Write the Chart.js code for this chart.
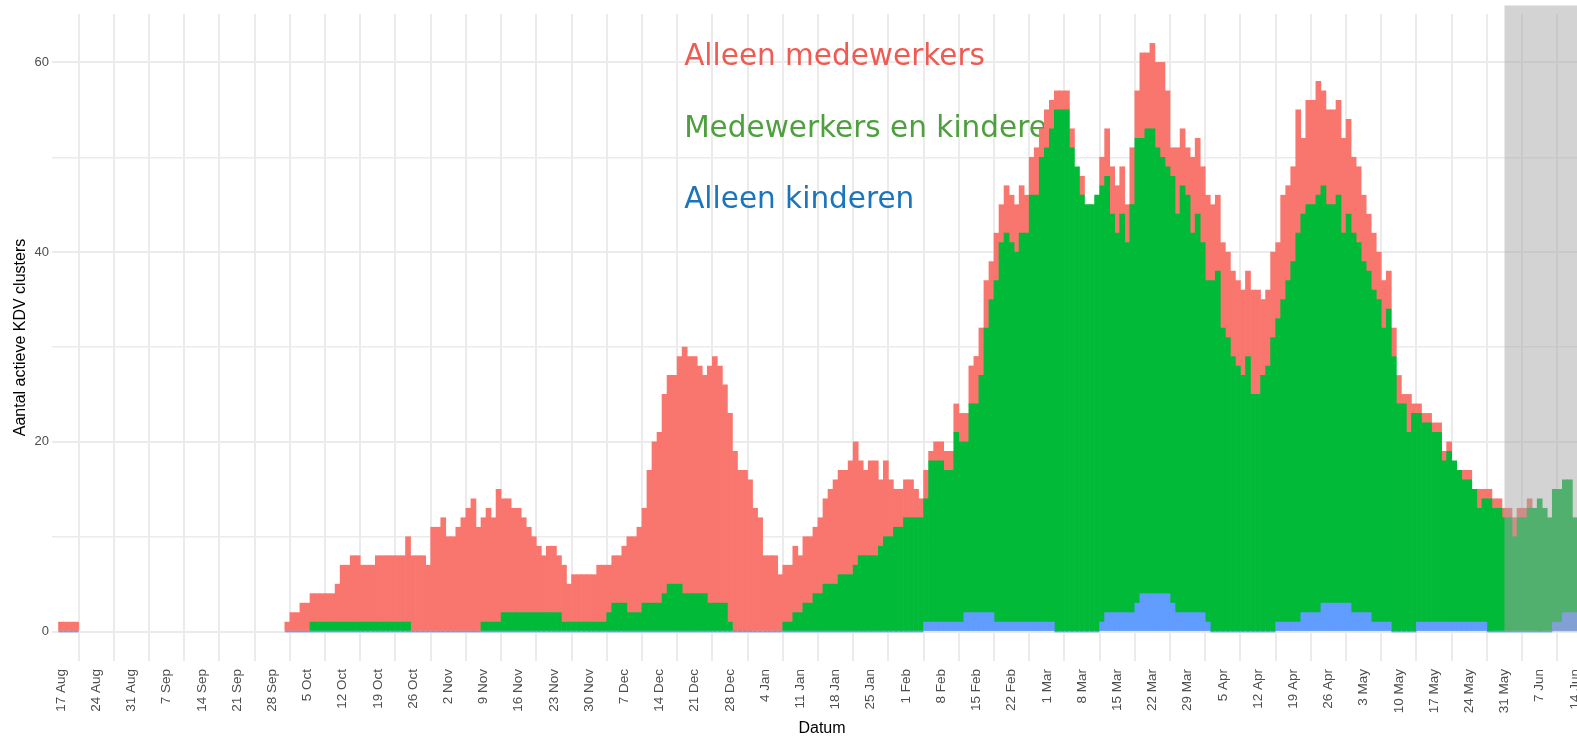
<!DOCTYPE html>
<html>
<head>
<meta charset="utf-8">
<script src="https://cdn.jsdelivr.net/npm/chart.js@4.4.1/dist/chart.umd.min.js"></script>
<style>
html,body{margin:0;padding:0;background:#ffffff;overflow:hidden;width:1577px;height:741px}
canvas{display:block}
</style>
</head>
<body>
<canvas id="c" width="1592" height="741"></canvas>
<script>
// x = day index, day 0 = 17 Aug; one tick label per week
const tickLabels = ['17 Aug','24 Aug','31 Aug','7 Sep','14 Sep','21 Sep','28 Sep','5 Oct','12 Oct','19 Oct','26 Oct',
  '2 Nov','9 Nov','16 Nov','23 Nov','30 Nov','7 Dec','14 Dec','21 Dec','28 Dec','4 Jan','11 Jan','18 Jan','25 Jan',
  '1 Feb','8 Feb','15 Feb','22 Feb','1 Mar','8 Mar','15 Mar','22 Mar','29 Mar','5 Apr','12 Apr','19 Apr','26 Apr',
  '3 May','10 May','17 May','24 May','31 May','7 Jun','14 Jun'];

const seriesNames = ['Alleen medewerkers','Medewerkers en kinderen','Alleen kinderen'];

// daily counts, one row per week (starting at the tick label date)
const alleenKinderen = [
  0,0,0,0,null,null,null,            // 17 Aug
  null,null,null,null,null,null,null,
  null,null,null,null,null,null,null,
  null,null,null,null,null,null,null,
  null,null,null,null,null,null,null,
  null,null,null,null,null,null,null,
  null,null,null,0,0,0,0,            // 28 Sep
  0,0,0,0,0,0,0,                     // 5 Oct
  0,0,0,0,0,0,0,
  0,0,0,0,0,0,0,
  0,0,0,0,0,0,0,
  0,0,0,0,0,0,0,                     // 2 Nov
  0,0,0,0,0,0,0,
  0,0,0,0,0,0,0,
  0,0,0,0,0,0,0,
  0,0,0,0,0,0,0,                     // 30 Nov
  0,0,0,0,0,0,0,
  0,0,0,0,0,0,0,
  0,0,0,0,0,0,0,
  0,0,0,0,0,0,0,                     // 28 Dec
  0,0,0,0,0,0,0,
  0,0,0,0,0,0,0,
  0,0,0,0,0,0,0,
  0,0,0,0,0,0,0,                     // 25 Jan
  0,0,0,0,1,1,1,                     // 1 Feb
  1,1,1,1,1,2,2,
  2,2,2,2,1,1,1,
  1,1,1,1,1,1,1,
  1,1,0,0,0,0,0,                     // 1 Mar
  0,0,0,0,1,2,2,
  2,2,2,2,3,4,4,
  4,4,4,4,3,2,2,
  2,2,2,2,1,0,0,                     // 29 Mar
  0,0,0,0,0,0,0,
  0,0,0,0,1,1,1,
  1,1,2,2,2,2,3,
  3,3,3,3,3,2,2,                     // 26 Apr
  2,2,1,1,1,1,0,
  0,0,0,0,1,1,1,
  1,1,1,1,1,1,1,
  1,1,1,1,0,0,0,                     // 24 May
  0,0,0,0,0,0,0,
  0,0,0,1,1,2,2,
  2                                  // 14 Jun
];

const medewerkersEnKinderen = [
  0,0,0,0,null,null,null,            // 17 Aug
  null,null,null,null,null,null,null,
  null,null,null,null,null,null,null,
  null,null,null,null,null,null,null,
  null,null,null,null,null,null,null,
  null,null,null,null,null,null,null,
  null,null,null,0,0,0,0,            // 28 Sep
  0,1,1,1,1,1,1,                     // 5 Oct
  1,1,1,1,1,1,1,
  1,1,1,1,1,1,1,
  0,0,0,0,0,0,0,
  0,0,0,0,0,0,0,                     // 2 Nov
  1,1,1,1,2,2,2,
  2,2,2,2,2,2,2,
  2,2,1,1,1,1,1,
  1,1,1,1,2,3,3,                     // 30 Nov
  3,2,2,2,3,3,3,
  3,4,5,5,5,4,4,
  4,4,4,3,3,3,3,
  1,0,0,0,0,0,0,                     // 28 Dec
  0,0,0,0,1,1,2,
  2,3,3,4,4,5,5,
  5,6,6,6,7,8,8,
  8,8,9,10,10,11,11,                 // 25 Jan
  12,12,12,12,13,17,17,              // 1 Feb
  17,16,16,20,19,18,22,
  22,25,30,33,36,40,41,
  40,39,41,41,45,45,49,
  50,52,55,55,55,51,49,              // 1 Mar
  46,45,45,46,46,46,42,
  40,42,39,43,49,48,49,
  49,47,46,45,45,42,45,
  44,40,42,39,36,37,38,              // 29 Mar
  32,31,29,28,27,29,25,
  25,27,28,31,32,34,36,
  38,41,42,43,43,44,44,
  42,42,43,39,41,40,39,              // 26 Apr
  37,36,35,34,31,33,29,
  24,24,21,23,22,21,21,
  20,20,17,18,17,16,15,
  15,14,12,13,14,13,13,              // 24 May
  12,12,10,12,12,13,13,
  14,13,12,14,14,14,14,
  10                                 // 14 Jun
];

const alleenMedewerkers = [
  1,1,1,1,null,null,null,            // 17 Aug
  null,null,null,null,null,null,null,
  null,null,null,null,null,null,null,
  null,null,null,null,null,null,null,
  null,null,null,null,null,null,null,
  null,null,null,null,null,null,null,
  null,null,null,1,2,2,3,            // 28 Sep
  3,3,3,3,3,3,4,                     // 5 Oct
  6,6,7,7,6,6,6,
  7,7,7,7,7,7,9,
  8,8,8,7,11,11,12,
  10,10,11,12,13,14,11,              // 2 Nov
  11,12,11,14,12,12,11,
  11,10,9,8,7,6,7,
  7,6,6,4,5,5,5,
  5,5,6,6,5,5,5,                     // 30 Nov
  6,8,8,9,10,14,17,
  18,21,22,22,24,26,25,
  25,24,23,25,26,25,23,
  22,19,17,17,16,13,12,              // 28 Dec
  8,8,8,6,6,6,7,
  6,7,7,7,8,9,10,
  11,11,11,12,13,10,9,
  10,10,7,8,6,4,4,                   // 25 Jan
  4,4,3,2,3,1,2,                     // 1 Feb
  2,2,2,3,3,3,4,
  5,5,5,4,5,4,5,
  5,5,5,4,4,5,3,
  4,3,2,2,2,2,0,                     // 1 Mar
  2,0,0,0,3,5,5,
  5,5,4,6,5,9,8,
  9,9,10,8,3,7,6,
  5,8,8,8,9,8,8,                     // 29 Mar
  9,9,9,9,9,9,11,
  11,8,8,9,8,11,10,
  10,13,8,11,11,12,10,
  10,10,10,10,10,8,8,                // 26 Apr
  7,6,6,5,5,4,3,
  3,1,4,1,1,1,1,
  1,1,1,1,0,0,1,
  1,0,2,1,1,1,1,                     // 24 May
  1,1,2,1,1,1,0,
  0,0,0,0,0,0,0,
  0                                  // 14 Jun
];

// shaded period (incomplete data) starts at 31 May (day index)
const shadedFromDay = 287;
const shadedTopValue = 66;

// legend text placement in data units (day, value of baseline)
const legendDay = 123.9;
const legendValues = [59.7, 52.1, 44.6];
const legendColors = ['#EF5B52', '#4E9F3D', '#1B75BC'];

const toPoints = arr => arr.map((v, i) => (v === null ? null : {x: i, y: v})).filter(p => p !== null);

const barBase = {
  barPercentage: 1,
  categoryPercentage: 1,
  borderWidth: 0,
  inflateAmount: ctx => (ctx.raw && ctx.raw.y === 0 ? 0 : 0.33)
};

const legendTextPlugin = {
  id: 'legendText',
  beforeDatasetsDraw(chart) {
    const {ctx, scales: {x, y}} = chart;
    ctx.save();
    ctx.font = '29.5px "DejaVu Sans"';
    ctx.textBaseline = 'alphabetic';
    ctx.textAlign = 'left';
    seriesNames.forEach((name, i) => {
      ctx.fillStyle = legendColors[i];
      ctx.fillText(name, x.getPixelForValue(legendDay), y.getPixelForValue(legendValues[i]));
    });
    ctx.restore();
  }
};

const shadePlugin = {
  id: 'shade',
  afterDatasetsDraw(chart) {
    const {ctx, chartArea, scales: {x, y}} = chart;
    const x0 = x.getPixelForValue(shadedFromDay);
    const yTop = y.getPixelForValue(shadedTopValue);
    const yBot = y.getPixelForValue(0);
    ctx.save();
    ctx.fillStyle = 'rgba(165,165,165,0.49)';
    ctx.fillRect(x0, yTop, chartArea.right - x0, yBot - yTop);
    ctx.restore();
  }
};

new Chart(document.getElementById('c'), {
  type: 'bar',
  data: {
    datasets: [
      Object.assign({label: seriesNames[2], data: toPoints(alleenKinderen), backgroundColor: '#619CFF', order: 0, minBarLength: 1.5}, barBase),
      Object.assign({label: seriesNames[1], data: toPoints(medewerkersEnKinderen), backgroundColor: '#00BA38', order: 1}, barBase),
      Object.assign({label: seriesNames[0], data: toPoints(alleenMedewerkers), backgroundColor: '#F8766D', order: 2}, barBase)
    ]
  },
  options: {
    responsive: false,
    animation: false,
    devicePixelRatio: 1,
    layout: {padding: {top: 14, left: 0, right: 0, bottom: 0}},
    plugins: {legend: {display: false}, tooltip: {enabled: false}},
    scales: {
      x: {
        type: 'linear',
        stacked: true,
        bounds: 'data',
        min: -1.79,
        max: 304.4,
        offset: false,
        border: {display: false},
        grid: {color: '#EBEBEB', lineWidth: 2, drawTicks: false},
        afterBuildTicks: s => { s.ticks = tickLabels.map((_, i) => ({value: i * 7})); },
        ticks: {
          autoSkip: false,
          minRotation: 90,
          maxRotation: 90,
          padding: 8,
          color: '#4D4D4D',
          font: {family: '"Liberation Sans", Arial, sans-serif', size: 13.5},
          callback: v => tickLabels[Math.round(v / 7)]
        },
        title: {display: true, text: 'Datum', color: '#000000',
          font: {family: '"Liberation Sans", Arial, sans-serif', size: 16}, padding: {top: 0, bottom: 3}},
        afterFit: s => { s.height = 80; s.paddingLeft = 0; s.paddingRight = 0; }
      },
      y: {
        type: 'linear',
        stacked: true,
        bounds: 'data',
        min: -3.1,
        max: 65.1,
        border: {display: false},
        grid: {color: '#EBEBEB', lineWidth: c => (c.tick && c.tick.value % 20 === 0 ? 2 : 1.4), drawTicks: false},
        afterBuildTicks: s => { s.ticks = [0, 10, 20, 30, 40, 50, 60].map(v => ({value: v})); },
        ticks: {
          padding: 3,
          color: '#4D4D4D',
          font: {family: '"Liberation Sans", Arial, sans-serif', size: 13},
          callback: v => (v % 20 === 0 ? String(v) : '')
        },
        title: {display: true, text: 'Aantal actieve KDV clusters', color: '#000000',
          font: {family: '"Liberation Sans", Arial, sans-serif', size: 16}, padding: {top: 11, bottom: 0}},
        afterFit: s => { s.width = 52; s.paddingTop = 0; s.paddingBottom = 0; }
      }
    }
  },
  plugins: [legendTextPlugin, shadePlugin]
});
</script>
</body>
</html>
